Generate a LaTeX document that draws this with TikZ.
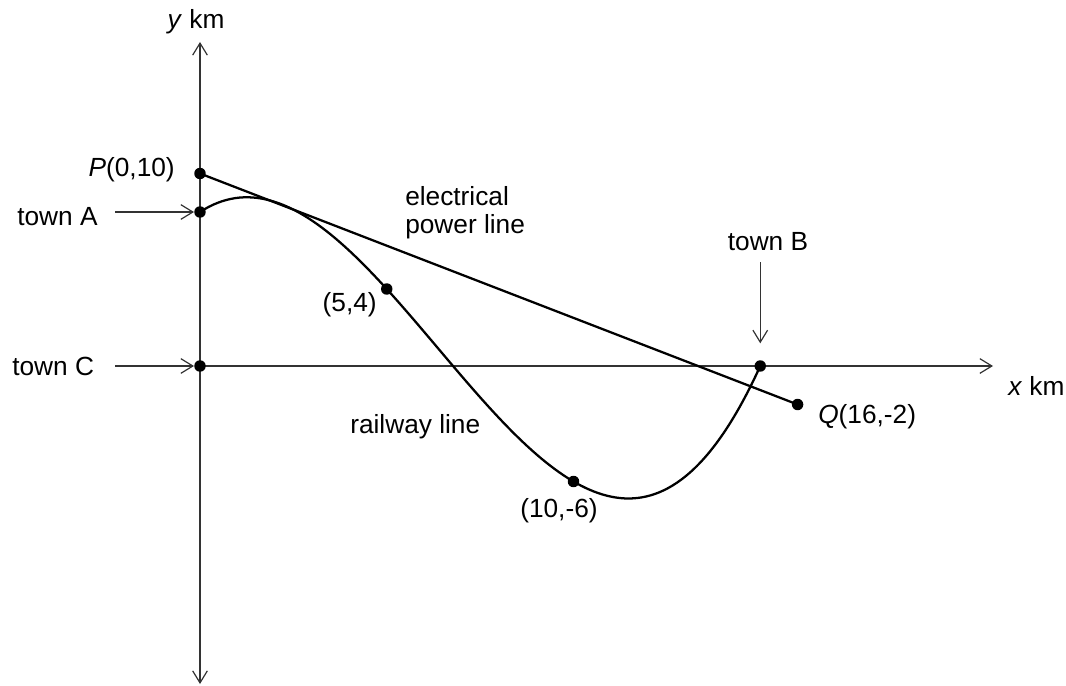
\documentclass[tikz,border=0pt]{standalone}
\usepackage{fontspec}
\setmainfont{Liberation Sans}
\usetikzlibrary{arrows.meta}
\begin{document}
\begin{tikzpicture}[x=0.75pt,y=-0.75pt,
  axis/.style={line width=0.9pt, draw=black!80, -{Straight Barb[length=9pt,width=11pt,line width=0.9pt]}},
  pointer/.style={line width=0.9pt, draw=black!80, -{Straight Barb[length=9pt,width=11pt,line width=0.9pt]}},
  curve/.style={line width=1.7pt, draw=black},
  dot/.style={circle, fill=black, inner sep=0pt, minimum size=8.6pt},
  lbl/.style={inner sep=0pt, font=\fontsize{19.7}{21}\selectfont},
]
\useasboundingbox (0,0) rectangle (1066,685);
% points
\coordinate (O) at (200,366);
\coordinate (P) at (200,173.5);
\coordinate (A) at (200,212);
\coordinate (M) at (386.75,289);
\coordinate (N) at (573.5,481.5);
\coordinate (B) at (760.25,366);
\coordinate (Q) at (797.6,404.5);
% axes
\coordinate (ytop) at (200,42);
\coordinate (ybot) at (200,684);
\coordinate (xend) at (993,366);
\draw[axis] (O) -- (ytop);
\draw[axis] (O) -- (ybot);
\draw[axis] (O) -- (xend);
% lines
\draw[curve] (P) -- (Q);
\draw[curve] (A) .. controls (386.75,90.1) and (573.5,776.7) .. (B);
% dots
\node[dot] (Pd) at (P) {};
\node[dot] (Ad) at (A) {};
\node[dot] (Cd) at (O) {};
\node[dot] (Md) at (M) {};
\node[dot] (Nd) at (N) {};
\node[dot] (Bd) at (B) {};
\node[dot] (Qd) at (Q) {};
% labels
\node[lbl, anchor=base] (ylab) at (196,29) {\textit{y} km};
\node[lbl, anchor=base west] (xlab) at (1008,395) {\textit{x} km};
\node[lbl, anchor=base east] (plab) at (175,176) {\textit{P}(0,10)};
\node[lbl, anchor=base west] (tA) at (17,225) {town A};
\node[lbl, anchor=base west] (tC) at (12,375) {town C};
\node[lbl, anchor=base] (tB) at (768,250) {town B};
\node[lbl, anchor=base west] (qlab) at (818,423) {\textit{Q}(16,-2)};
\node[lbl, anchor=base east] (mlab) at (377,311) {(5,4)};
\node[lbl, anchor=base west] (nlab) at (520,517) {(10,-6)};
\node[lbl, anchor=base west] (rail) at (350,433) {railway line};
\node[lbl, anchor=base west, align=left] (elec) at (405,233) {electrical\\power line};
% pointers
\coordinate (tAs) at (115,212);
\coordinate (tCs) at (115,366);
\coordinate (tBs) at (760.25,262);
\draw[pointer] (tAs) -- (Ad);
\draw[pointer] (tCs) -- (Cd);
\draw[pointer, shorten >=12.5pt] (tBs) -- (Bd);
\end{tikzpicture}
\end{document}
